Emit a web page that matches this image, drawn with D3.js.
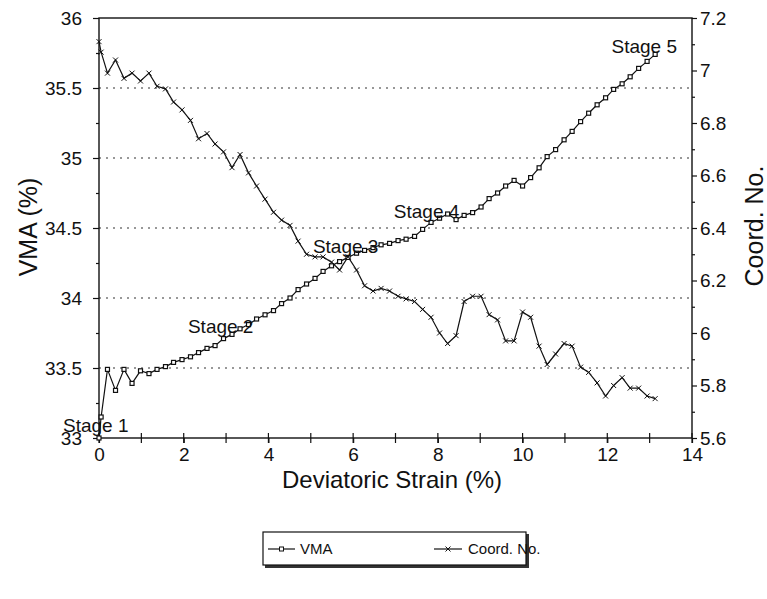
<!DOCTYPE html>
<html>
<head>
<meta charset="utf-8">
<style>
  body { margin: 0; background: #fff; }
  svg { display: block; font-family: "Liberation Sans", Arial, sans-serif; }
  .tick text { font-size: 19px; fill: #111; }
  .tick line { stroke: #111; stroke-width: 1.2; }
  .grid line { stroke: #333; stroke-width: 1.2; stroke-dasharray: 2 5; }
  .frame { fill: none; stroke: #111; stroke-width: 1.4; }
  .curve { fill: none; stroke: #111; stroke-width: 1.2; }
  .stage { font-size: 19px; fill: #111; }
  .title { font-size: 24px; fill: #111; }
  .legend text { font-size: 15px; fill: #111; }
</style>
</head>
<body>
<svg width="767" height="599"></svg>
<script src="https://cdn.jsdelivr.net/npm/d3@7"></script>
<script>
// deviatoric strain (%) for each reading
const strain = [0, 0.05, 0.20, 0.39, 0.59, 0.78, 0.98, 1.18, 1.37, 1.57, 1.76, 1.96, 2.16, 2.35,
  2.55, 2.74, 2.94, 3.14, 3.33, 3.53, 3.72, 3.92, 4.12, 4.31, 4.51, 4.70, 4.90, 5.10, 5.29,
  5.49, 5.68, 5.88, 6.08, 6.27, 6.47, 6.66, 6.86, 7.06, 7.25, 7.45, 7.64, 7.84, 8.04, 8.23,
  8.43, 8.62, 8.82, 9.02, 9.21, 9.41, 9.60, 9.80, 10.00, 10.19, 10.39, 10.58, 10.78, 10.98,
  11.17, 11.37, 11.56, 11.76, 11.96, 12.15, 12.35, 12.54, 12.74, 12.94, 13.13];

// VMA (%) - left axis
const vma = [33.00, 33.15, 33.49, 33.34, 33.49, 33.39, 33.48, 33.46, 33.49, 33.51, 33.54, 33.56,
  33.58, 33.61, 33.64, 33.66, 33.71, 33.74, 33.78, 33.81, 33.85, 33.88, 33.91, 33.96, 34.00,
  34.06, 34.10, 34.14, 34.19, 34.23, 34.26, 34.29, 34.32, 34.34, 34.36, 34.38, 34.39, 34.41,
  34.42, 34.44, 34.49, 34.54, 34.57, 34.60, 34.56, 34.59, 34.61, 34.65, 34.71, 34.75, 34.80,
  34.84, 34.80, 34.86, 34.93, 35.01, 35.06, 35.13, 35.19, 35.26, 35.32, 35.38, 35.43, 35.49,
  35.53, 35.58, 35.64, 35.69, 35.74];

// coordination number - right axis
const coordNo = [7.11, 7.07, 6.99, 7.04, 6.97, 6.99, 6.96, 6.99, 6.94, 6.93, 6.88, 6.85, 6.81,
  6.74, 6.76, 6.72, 6.69, 6.63, 6.68, 6.61, 6.56, 6.51, 6.46, 6.43, 6.41, 6.35, 6.30, 6.29,
  6.29, 6.27, 6.24, 6.29, 6.24, 6.18, 6.16, 6.17, 6.16, 6.14, 6.13, 6.12, 6.09, 6.06, 6.00,
  5.96, 5.99, 6.12, 6.14, 6.14, 6.07, 6.05, 5.97, 5.97, 6.08, 6.06, 5.95, 5.88, 5.92, 5.96,
  5.95, 5.87, 5.85, 5.81, 5.76, 5.80, 5.83, 5.79, 5.79, 5.76, 5.75];

const stageNames = ['Stage 1', 'Stage 2', 'Stage 3', 'Stage 4', 'Stage 5'];
const stageStrain = [-0.85, 2.10, 5.05, 6.96, 12.10];
const stageVma = [33.04, 33.75, 34.32, 34.57, 35.75];

const xTicks = [0, 2, 4, 6, 8, 10, 12, 14];
const leftTicks = [33, 33.5, 34, 34.5, 35, 35.5, 36];
const rightTicks = [5.6, 5.8, 6, 6.2, 6.4, 6.6, 6.8, 7, 7.2];

(function (d3) {
  'use strict';

  const svg = d3.select('svg');
  const left = 99, right = 692, plotTop = 18, bottom = 438;

  const x = d3.scaleLinear().domain([0, 14]).range([left, right]);
  const yL = d3.scaleLinear().domain([33, 36]).range([bottom, plotTop]);
  const yR = d3.scaleLinear().domain([5.6, 7.2]).range([bottom, plotTop]);
  const fmt = d3.format('~g');

  // dotted grid on the VMA ticks
  svg.append('g')
    .attr('class', 'grid')
    .selectAll('line')
    .data(leftTicks.slice(1, -1))
    .join('line')
    .attr('x1', left).attr('x2', right)
    .attr('y1', d => yL(d)).attr('y2', d => yL(d));

  // minor ticks
  const minorL = d3.range(33.25, 36, 0.5);
  const minorR = d3.range(5.7, 7.2, 0.2);
  const minorX = d3.range(1, 14, 2);

  svg.append('g')
    .attr('transform', `translate(${left},0)`)
    .call(d3.axisLeft(yL).tickValues(minorL).tickSize(3).tickFormat(''))
    .call(g => g.select('.domain').remove());
  svg.append('g')
    .attr('transform', `translate(${right},0)`)
    .call(d3.axisRight(yR).tickValues(minorR).tickSize(3).tickFormat(''))
    .call(g => g.select('.domain').remove());

  // main axes
  svg.append('g')
    .attr('transform', `translate(${left},0)`)
    .call(d3.axisLeft(yL).tickValues(leftTicks).tickSize(6).tickPadding(11).tickFormat(fmt))
    .call(g => g.select('.domain').remove());

  svg.append('g')
    .attr('transform', `translate(${right},0)`)
    .call(d3.axisRight(yR).tickValues(rightTicks).tickSize(5).tickPadding(3).tickFormat(fmt))
    .call(g => g.select('.domain').remove());

  svg.append('g')
    .attr('transform', `translate(0,${bottom})`)
    .call(d3.axisBottom(x).tickValues(xTicks).tickSize(5).tickPadding(5).tickFormat(fmt))
    .call(g => g.select('.domain').remove());

  // x ticks cross the axis
  svg.append('g')
    .selectAll('line')
    .data(xTicks.concat(minorX))
    .join('line')
    .attr('x1', d => x(d)).attr('x2', d => x(d))
    .attr('y1', bottom - 5).attr('y2', bottom + 5)
    .attr('stroke', '#111').attr('stroke-width', 1.2);

  svg.append('rect')
    .attr('class', 'frame')
    .attr('x', left).attr('y', plotTop)
    .attr('width', right - left).attr('height', bottom - plotTop);

  // curves
  const rows = strain.map((s, i) => ({ s, v: vma[i], c: coordNo[i] }));

  svg.append('path')
    .attr('class', 'curve')
    .attr('d', d3.line().x(d => x(d.s)).y(d => yL(d.v))(rows));

  svg.append('path')
    .attr('class', 'curve')
    .attr('d', d3.line().x(d => x(d.s)).y(d => yR(d.c))(rows));

  svg.append('g')
    .selectAll('rect')
    .data(rows)
    .join('rect')
    .attr('x', d => x(d.s) - 2).attr('y', d => yL(d.v) - 2)
    .attr('width', 4).attr('height', 4)
    .attr('fill', '#fff').attr('stroke', '#111').attr('stroke-width', 1.2);

  const cross = 'M-2.5,-2.5L2.5,2.5M-2.5,2.5L2.5,-2.5';
  svg.append('g')
    .selectAll('path')
    .data(rows)
    .join('path')
    .attr('transform', d => `translate(${x(d.s)},${yR(d.c)})`)
    .attr('d', cross)
    .attr('stroke', '#111').attr('stroke-width', 1);

  // stage labels
  svg.append('g')
    .selectAll('text')
    .data(stageNames)
    .join('text')
    .attr('class', 'stage')
    .attr('x', (d, i) => x(stageStrain[i]))
    .attr('y', (d, i) => yL(stageVma[i]))
    .text(d => d);

  // axis titles
  svg.append('text')
    .attr('class', 'title')
    .attr('text-anchor', 'middle')
    .style('font-size', '25px')
    .attr('transform', 'translate(37,227) rotate(-90)')
    .text('VMA (%)');

  svg.append('text')
    .attr('class', 'title')
    .attr('text-anchor', 'middle')
    .style('font-size', '25px')
    .attr('transform', 'translate(763,226) rotate(-90)')
    .text('Coord. No.');

  svg.append('text')
    .attr('class', 'title')
    .attr('text-anchor', 'middle')
    .attr('x', 392).attr('y', 488)
    .text('Deviatoric Strain (%)');

  // legend
  const legend = svg.append('g').attr('class', 'legend');
  legend.append('rect')
    .attr('x', 265).attr('y', 534).attr('width', 264).attr('height', 34)
    .attr('fill', '#333');
  legend.append('rect')
    .attr('x', 263).attr('y', 532).attr('width', 263).attr('height', 33)
    .attr('fill', '#fff').attr('stroke', '#111').attr('stroke-width', 1.2);

  legend.append('line')
    .attr('x1', 268).attr('x2', 295).attr('y1', 549).attr('y2', 549)
    .attr('stroke', '#111').attr('stroke-width', 1.2);
  legend.append('rect')
    .attr('x', 279.5).attr('y', 547).attr('width', 4).attr('height', 4)
    .attr('fill', '#fff').attr('stroke', '#111');
  legend.append('text').attr('x', 300).attr('y', 554).text('VMA');

  legend.append('line')
    .attr('x1', 434).attr('x2', 462).attr('y1', 549).attr('y2', 549)
    .attr('stroke', '#111').attr('stroke-width', 1.2);
  legend.append('path')
    .attr('transform', 'translate(448,549)')
    .attr('d', cross)
    .attr('stroke', '#111');
  legend.append('text').attr('x', 468).attr('y', 554).text('Coord. No.');

}(d3));
</script>
</body>
</html>
